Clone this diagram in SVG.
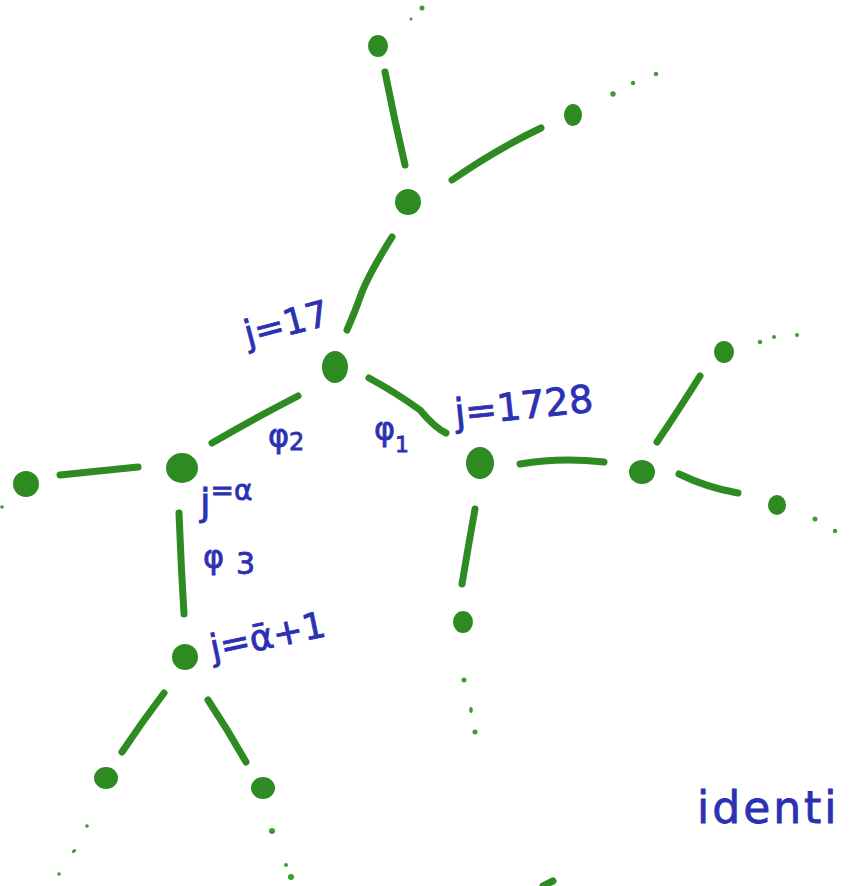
<svg xmlns="http://www.w3.org/2000/svg" width="850" height="886" viewBox="0 0 850 886">
<style>
.n{fill:#2e8b22}
.d{fill:#3f9a35}
.e{fill:none;stroke:#2e8b22;stroke-width:7;stroke-linecap:round}
.t{fill:#2c30b2;stroke:#2c30b2;stroke-width:0.8;font-family:"DejaVu Sans","Liberation Sans",sans-serif}
</style>
<rect width="850" height="886" fill="#ffffff"/>
<g id="connectors">
<path class="e" d="M385,72 Q394,118 405,165"/>
<path class="e" d="M452,180 Q495,150 541,128"/>
<path class="e" d="M392,237 Q370,272 362,292 Q355,312 347,330"/>
<path class="e" d="M369,378 Q395,392 420,410 Q435,428 446,433"/>
<path class="e" d="M298,396 Q255,418 212,443"/>
<path class="e" d="M60,475 Q100,471 138,467"/>
<path class="e" d="M179,513 Q181,565 184,614"/>
<path class="e" d="M520,464 Q560,457 604,462"/>
<path class="e" d="M657,442 Q680,408 700,376"/>
<path class="e" d="M679,474 Q708,488 738,493"/>
<path class="e" d="M475,509 Q468,548 462,584"/>
<path class="e" d="M164,693 Q142,722 122,752"/>
<path class="e" d="M208,700 Q228,730 246,762"/>
<path class="e" d="M543,886 L553,881"/>
</g>
<g id="n1"><ellipse class="n" cx="378" cy="46" rx="10" ry="11"/></g>
<g id="n2"><ellipse class="n" cx="573" cy="115" rx="9" ry="11"/></g>
<g id="n3"><ellipse class="n" cx="408" cy="202" rx="13" ry="13"/></g>
<g id="n4"><ellipse class="n" cx="335" cy="367" rx="13" ry="16"/>
<text class="t" font-size="36" transform="rotate(-15 250 346)" x="248" y="346">j=17</text></g>
<g id="n5"><ellipse class="n" cx="182" cy="468" rx="16" ry="15"/>
<text class="t" x="200" y="515"><tspan font-size="38">j</tspan><tspan font-size="28" dy="-15">=α</tspan></text></g>
<g id="n6"><ellipse class="n" cx="26" cy="484" rx="13" ry="13"/></g>
<g id="n7"><ellipse class="n" cx="480" cy="463" rx="14" ry="16"/>
<text class="t" font-size="38" transform="rotate(-6 456 426)" x="456" y="426">j=1728</text></g>
<g id="n8"><ellipse class="n" cx="642" cy="472" rx="13" ry="12"/></g>
<g id="n9"><ellipse class="n" cx="724" cy="352" rx="10" ry="11"/></g>
<g id="n10"><ellipse class="n" cx="777" cy="505" rx="9" ry="10"/></g>
<g id="n11"><ellipse class="n" cx="463" cy="622" rx="10" ry="11"/></g>
<g id="n12"><ellipse class="n" cx="185" cy="657" rx="13" ry="13"/>
<text class="t" font-size="36" transform="rotate(-12 215 660)" x="213" y="660">j=ᾱ+1</text></g>
<g id="n13"><ellipse class="n" cx="106" cy="778" rx="12" ry="11"/></g>
<g id="n14"><ellipse class="n" cx="263" cy="788" rx="12" ry="11"/></g>
<g id="edge-labels">
<text class="t" x="268" y="447"><tspan font-size="32">φ</tspan><tspan font-size="24" dy="3">2</tspan></text>
<text class="t" x="374" y="440"><tspan font-size="32">φ</tspan><tspan font-size="22" dy="12">1</tspan></text>
<text class="t" x="203" y="568"><tspan font-size="32">φ</tspan><tspan font-size="30" dx="12" dy="6">3</tspan></text>
</g>
<g id="dots">
<circle class="d" cx="422" cy="8" r="2.5"/>
<circle class="d" cx="411" cy="19" r="1.5"/>
<circle class="d" cx="613" cy="94" r="2.7"/>
<circle class="d" cx="633" cy="83" r="2.2"/>
<circle class="d" cx="656" cy="74" r="2.2"/>
<circle class="d" cx="760" cy="342" r="2.2"/>
<circle class="d" cx="774" cy="337" r="2"/>
<circle class="d" cx="797" cy="335" r="2"/>
<circle class="d" cx="815" cy="519" r="2.5"/>
<circle class="d" cx="835" cy="531" r="2.2"/>
<circle class="d" cx="2" cy="507" r="1.8"/>
<circle class="d" cx="464" cy="680" r="2.5"/>
<ellipse class="d" cx="471" cy="710" rx="1.8" ry="3"/>
<circle class="d" cx="475" cy="732" r="2.5"/>
<circle class="d" cx="87" cy="826" r="1.8"/>
<ellipse class="d" cx="74" cy="851" rx="2.5" ry="1.5" transform="rotate(-40 74 851)"/>
<circle class="d" cx="59" cy="874" r="1.8"/>
<circle class="d" cx="272" cy="831" r="3"/>
<circle class="d" cx="286" cy="865" r="2"/>
<circle class="d" cx="291" cy="877" r="3"/>
</g>
<text class="t" font-size="44" letter-spacing="3" x="697" y="823">identi</text>
</svg>
